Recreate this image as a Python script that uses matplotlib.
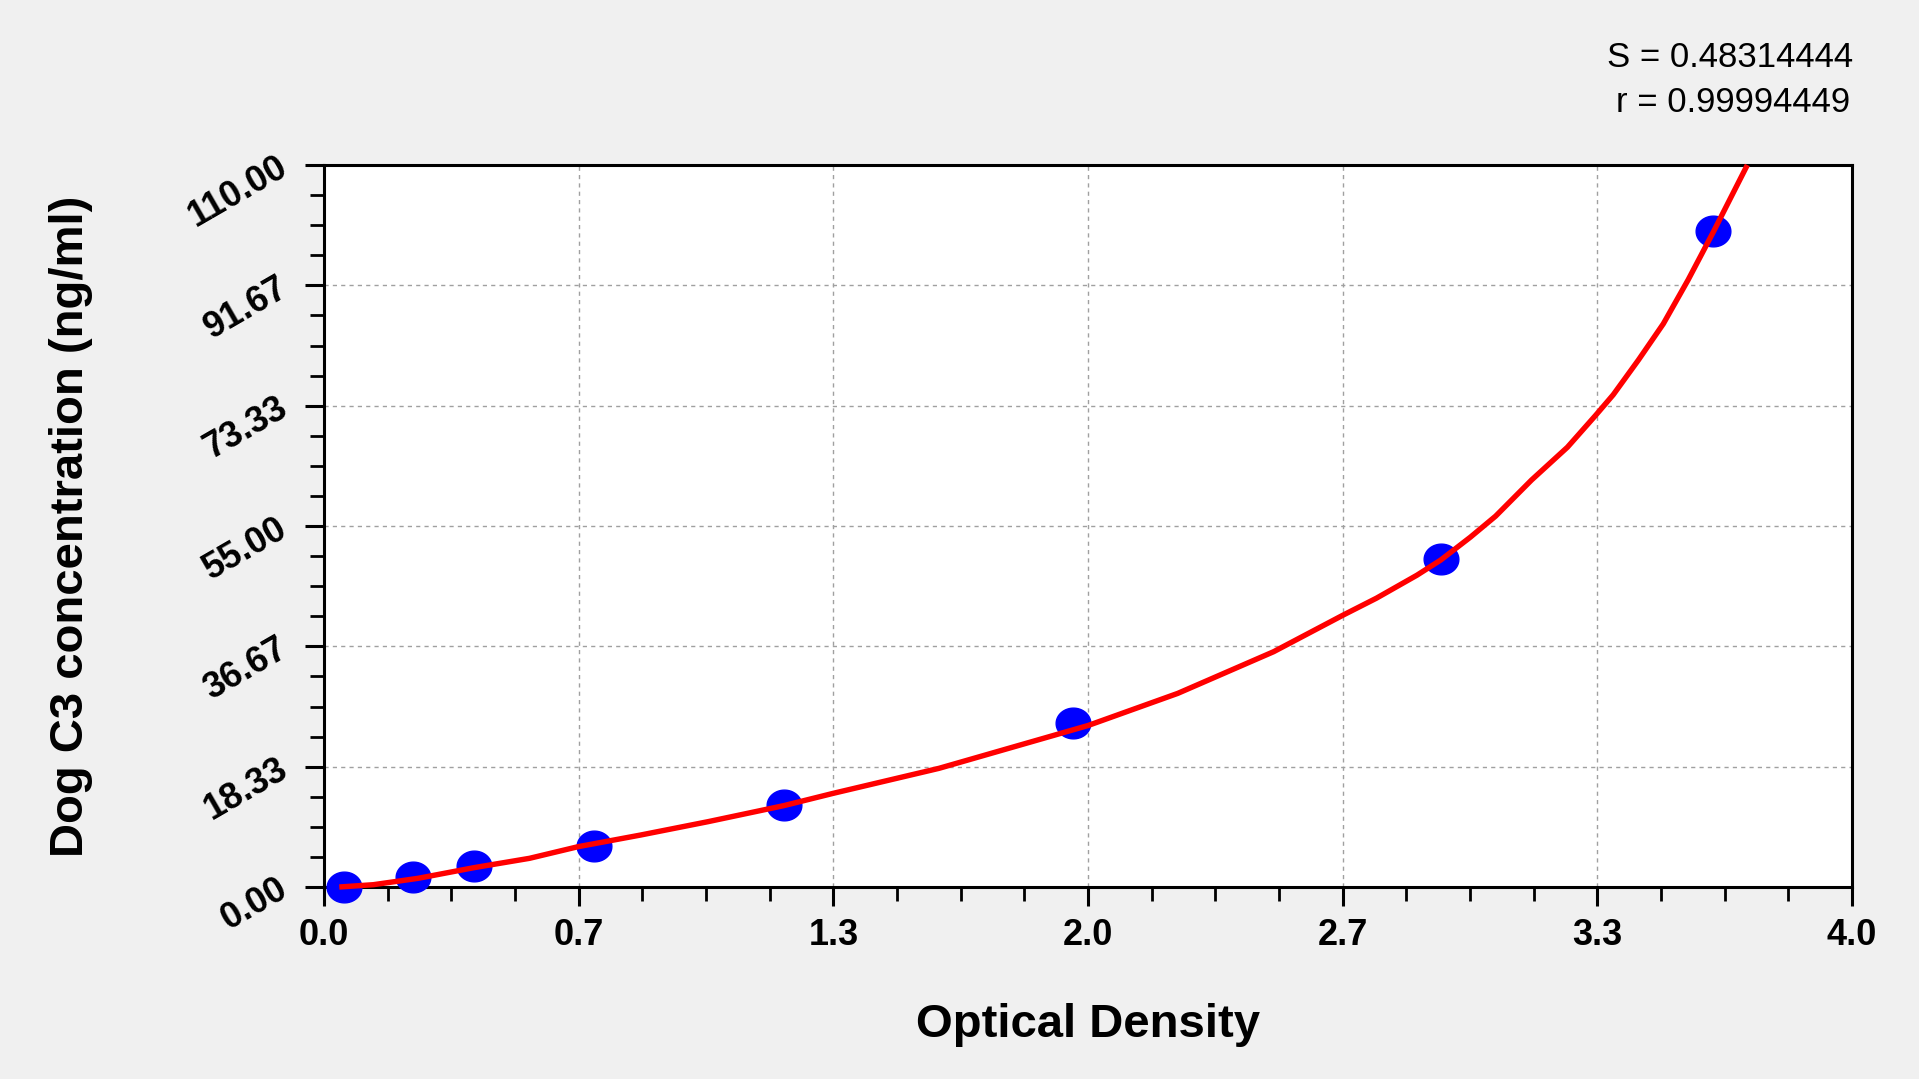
import numpy as np
import matplotlib
matplotlib.use("Agg")
import matplotlib.pyplot as plt
from matplotlib.path import Path
from matplotlib.ticker import FixedLocator, FuncFormatter

plt.rcParams['font.family'] = ['Liberation Sans', 'DejaVu Sans']

# Standard points
od = [0.053, 0.232, 0.392, 0.706, 1.203, 1.960, 2.923, 3.637]
conc = [0.0, 1.5625, 3.125, 6.25, 12.5, 25.0, 50.0, 100.0]

# Fitted curve
curve_od = [0.04, 0.129, 0.246, 0.392, 0.538, 0.665, 0.829, 1.005, 1.204, 1.333,
            1.610, 2.0, 2.235, 2.486, 2.667, 2.755, 2.861, 2.923, 3.001, 3.067,
            3.161, 3.255, 3.328, 3.375, 3.441, 3.506, 3.571, 3.637, 3.726]
curve_conc = [0.0, 0.35, 1.32, 2.94, 4.37, 6.14, 7.92, 9.95, 12.4, 14.27,
              18.08, 24.6, 29.5, 35.85, 41.4, 44.0, 47.5, 49.8, 53.3, 56.5,
              62.0, 67.0, 71.8, 75.0, 80.3, 85.8, 92.5, 99.8, 110.0]

x_major = [0.0, 4/6, 8/6, 2.0, 16/6, 20/6, 4.0]
y_major = [0.0, 110/6, 220/6, 55.0, 440/6, 550/6, 110.0]

stats_lines = ["S = 0.48314444", "r = 0.99994449"]
xlabel = "Optical Density"
ylabel = "Dog C3 concentration (ng/ml)"

fig = plt.figure(figsize=(19.19, 10.79), dpi=100)
fig.patch.set_facecolor('#F0F0F0')
ax = fig.add_axes([324/1919, 1-887/1079, 1528/1919, 722/1079])
ax.set_facecolor('white')

ax.set_xlim(0, 4.0)
ax.set_ylim(0, 110)

ax.xaxis.set_major_locator(FixedLocator(x_major))
ax.yaxis.set_major_locator(FixedLocator(y_major))
ax.xaxis.set_minor_locator(FixedLocator(np.arange(0, 4.0001, 4/24)))
ax.yaxis.set_minor_locator(FixedLocator(np.arange(0, 110.0001, 110/24)))
ax.xaxis.set_major_formatter(FuncFormatter(lambda v, p: f"{v:.1f}"))
ax.yaxis.set_major_formatter(FuncFormatter(lambda v, p: f"{v:.2f}"))

ax.grid(True, which='major', linestyle=(0, (3, 3)), color='#A0A0A0', linewidth=1.0)
ax.set_axisbelow(True)

for s in ax.spines.values():
    s.set_linewidth(2.2)
    s.set_color('black')

ax.tick_params(axis='both', which='major', direction='out', length=14, width=2.2,
               color='black', labelsize=26)
ax.tick_params(axis='both', which='minor', direction='out', length=10, width=2.0,
               color='black')
ax.tick_params(axis='x', which='major', pad=8)
ax.tick_params(axis='y', which='major', pad=14)
ax.tick_params(top=False, right=False, which='both')

for lab in ax.get_xticklabels():
    lab.set_fontweight('bold')
for lab in ax.get_yticklabels():
    lab.set_fontweight('bold')
    lab.set_rotation(30)
    lab.set_ha('right')
    lab.set_va('center')
    lab.set_rotation_mode('anchor')

# ellipse marker
t = np.linspace(0, 2*np.pi, 60)
ell = Path(np.column_stack([1.13*np.cos(t), np.sin(t)]), closed=True)

ax.plot(od, conc, linestyle='none', marker=ell, markersize=25,
        markerfacecolor='#0000FF', markeredgecolor='#0000FF', zorder=3, clip_on=False)
ax.plot(curve_od, curve_conc, color='#FF0000', linewidth=3.9, zorder=4, clip_on=False,
        solid_capstyle='butt')

ax.set_xlabel(xlabel, fontsize=34, fontweight='bold')
ax.set_ylabel(ylabel, fontsize=34, fontweight='bold')
ax.xaxis.set_label_coords(0.5, (887-1025)/722)
ax.xaxis.label.set_va('center')
ax.yaxis.set_label_coords((71-324)/1528, 0.5)
ax.yaxis.label.set_va('center')

fig.text(1853/1919, 1-67/1079, stats_lines[0], ha='right', va='baseline', fontsize=25)
fig.text(1850/1919, 1-112/1079, stats_lines[1], ha='right', va='baseline', fontsize=25)

fig.savefig("out.png", dpi=100, facecolor=fig.get_facecolor())
